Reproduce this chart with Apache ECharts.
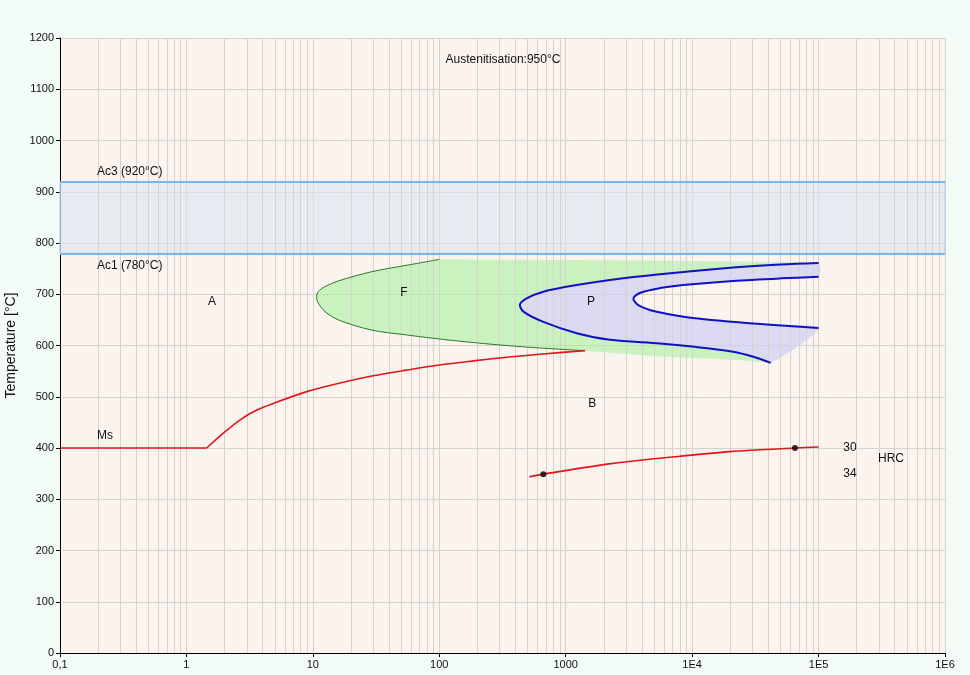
<!DOCTYPE html>
<html><head><meta charset="utf-8">
<script src="https://cdn.jsdelivr.net/npm/echarts@6/dist/echarts.min.js"></script>
<style>html,body{margin:0;padding:0;background:#f3fbf7}#c{width:970px;height:675px}</style>
</head><body><div id="c"></div>
<script>
// ---- axis ticks ----
const xTickLabels = ['0,1','1','10','100','1000','1E4','1E5','1E6'];
const decades = [0.1, 1, 10, 100, 1000, 1e4, 1e5];
const minorSteps = [2,3,4,5,6,7,8,9];

// ---- critical temperatures ----
const ac1 = 780;
const ac3 = 920;

// ---- curves: [time (s), temperature (°C)] ----
const msFlat = [[0.1,400],[1.445,400]];
const msCurve = [[1.445,400],[1.96,429],[2.66,455],[3.6,474],[4.87,487],[8.93,510],[16.4,527],[30,541],[55,552],[100,562],[186,570],[341,577],[627,583],[1420,590]];

const ferriteStart = [[100,768],[53.6,756],[29.2,744],[15.9,726],[12.5,715],[11.0,705],[10.7,695],[11.0,683],[12.5,666],[15.9,650],[29.2,630],[53.6,621],[90,614],[165,607],[302,601],[554,596],[1018,592],[1420,590]];
const ferriteTop = [[100,768],[1000,767],[10000,765],[100000,762]];
const ferriteBottom = [[1420,590],[6280,578],[21100,572],[41800,566]];

const pearliteOuter = [[100000,761],[50000,758],[21100,752],[5570,739],[2240,728],[1222,718],[665,705],[491,692],[434,680],[463,666],[665,646],[1222,624],[2240,611],[5570,604],[10000,598],[21100,588],[30500,578],[41800,566]];
const pearliteInner = [[100000,734],[50000,731],[21100,726],[8510,718],[5570,712],[3900,703],[3430,692],[3750,679],[5250,666],[11530,652],[38800,641],[100000,634]];

const hardnessCurve = [[516,344],[665,349],[2380,370],[8020,384],[19950,393],[65000,400],[100000,402]];
const hardnessPoints = [[665,349],[65000,400]];
const hardnessValues = ['34','30'];

// ---- annotations ----
const annotations = [
  {text:'Austenitisation:950°C', at:[319,1157], align:'center'},
  {text:'Ac3 (920°C)', at:[0.196,940], align:'left'},
  {text:'Ac1 (780°C)', at:[0.196,755], align:'left'},
  {text:'A', at:[1.59,685], align:'center'},
  {text:'F', at:[52.6,704], align:'center'},
  {text:'P', at:[1585,685], align:'center'},
  {text:'B', at:[1620,486], align:'center'},
  {text:'Ms', at:[0.227,425], align:'center'},
  {text:'HRC', at:[374000,380], align:'center'}
];
const hardnessLabelX = 177000;

// ---- derived geometry ----
const minorGrid = [];
decades.forEach(d => minorSteps.forEach(k => minorGrid.push(k*d)));

const greenPoly = ferriteStart
  .concat(ferriteBottom.slice(1))
  .concat(pearliteOuter.slice().reverse())
  .concat(ferriteTop.slice().reverse());
const lavenderPoly = pearliteOuter.concat(pearliteInner.slice().reverse());

const FONT = '12px "Liberation Sans", Arial, sans-serif';

function polySeries(points, color, z){
  return {
    type:'custom', silent:true, z:z, clip:true,
    data:[points[0]],
    renderItem:(params, api) => ({
      type:'polygon',
      shape:{points: points.map(p => api.coord(p)), smooth:0.25},
      style:{fill:color}
    })
  };
}
function curveSeries(points, color, width, z, smooth){
  return {
    type:'custom', silent:true, z:z, clip:true,
    data:[points[0]],
    renderItem:(params, api) => ({
      type:'polyline',
      shape:{points: points.map(p => api.coord(p)), smooth:smooth},
      style:{stroke:color, lineWidth:width, fill:null}
    })
  };
}

const textItems = annotations.map(a => ({value:a.at, text:a.text, align:a.align}));
hardnessPoints.forEach((p,i) => textItems.push({value:[hardnessLabelX, p[1]], text:hardnessValues[i], align:'center'}));

const chart = echarts.init(document.getElementById('c'), null, {renderer:'canvas'});
chart.setOption({
  backgroundColor:'#f3fbf7',
  animation:false,
  grid:{left:60, right:25, top:38, bottom:22, show:true, backgroundColor:'#fbf4ee', borderWidth:0,
    containLabel:false, outerBoundsMode:'none'},
  xAxis:{
    type:'log', logBase:10, min:0.1, max:1e6,
    axisLine:{show:true, onZero:false, lineStyle:{color:'#000', width:1}},
    axisTick:{show:true, length:4, lineStyle:{color:'#000'}},
    axisLabel:{color:'#111', fontSize:11, fontFamily:'"Liberation Sans", Arial, sans-serif', margin:6,
      formatter: v => xTickLabels[Math.round(Math.log10(v)) + 1]},
    splitLine:{show:true, lineStyle:{color:'#d6d2ce', width:1}},
    minorTick:{show:false}, minorSplitLine:{show:false}
  },
  yAxis:{
    type:'value', min:0, max:1200, interval:100,
    name:'Temperature [°C]', nameLocation:'middle', nameGap:40, nameRotate:90,
    nameTextStyle:{color:'#111', fontSize:14, fontFamily:'"Liberation Sans", Arial, sans-serif'},
    axisLine:{show:true, lineStyle:{color:'#000', width:1}},
    axisTick:{show:true, length:4, lineStyle:{color:'#000'}},
    axisLabel:{color:'#111', fontSize:11, fontFamily:'"Liberation Sans", Arial, sans-serif', margin:6,
      formatter: v => String(v)},
    splitLine:{show:true, lineStyle:{color:'#d6d2ce', width:1}}
  },
  series:[
    {
      type:'line', data:[[1e6,0]], symbol:'none', silent:true, z:1, lineStyle:{opacity:0},
      markLine:{silent:true, symbol:'none', label:{show:false}, animation:false,
        lineStyle:{color:'#d6d2ce', width:1, type:'solid'},
        data: minorGrid.map(v => ({xAxis:v}))}
    },
    {
      type:'line', data:[[1e6,0]], symbol:'none', silent:true, z:2, lineStyle:{opacity:0},
      markArea:{silent:true, label:{show:false},
        itemStyle:{color:'rgba(215,228,242,0.6)', borderColor:'#a9cdee', borderWidth:1},
        data:[[{yAxis:ac1},{yAxis:ac3}]]},
      markLine:{silent:true, symbol:'none', label:{show:false},
        lineStyle:{color:'#7db5e6', width:2, type:'solid'},
        data:[{yAxis:ac1},{yAxis:ac3}]}
    },
    polySeries(greenPoly, 'rgba(170,240,160,0.62)', 3),
    polySeries(lavenderPoly, 'rgba(205,205,245,0.68)', 4),
    curveSeries(ferriteStart, '#2b7a2b', 1, 5, 0.3),
    curveSeries(pearliteOuter, '#1010c4', 2, 6, 0.3),
    curveSeries(pearliteInner, '#1010c4', 2, 6, 0.3),
    curveSeries(msFlat, '#e4141a', 1.6, 7, 0),
    curveSeries(msCurve, '#e4141a', 1.6, 7, 0.3),
    curveSeries(hardnessCurve, '#e4141a', 1.6, 7, 0.3),
    {type:'scatter', data:hardnessPoints, symbolSize:6, itemStyle:{color:'#000'}, silent:true, z:8},
    {
      type:'custom', silent:true, z:9, clip:false,
      data:textItems,
      renderItem:(params, api) => {
        const it = textItems[params.dataIndex];
        const p = api.coord(it.value);
        return {type:'text', x:p[0], y:p[1],
          style:{text:it.text, fill:'#111', font:FONT, align:it.align, verticalAlign:'middle'}};
      }
    }
  ]
});
</script>
</body></html>
